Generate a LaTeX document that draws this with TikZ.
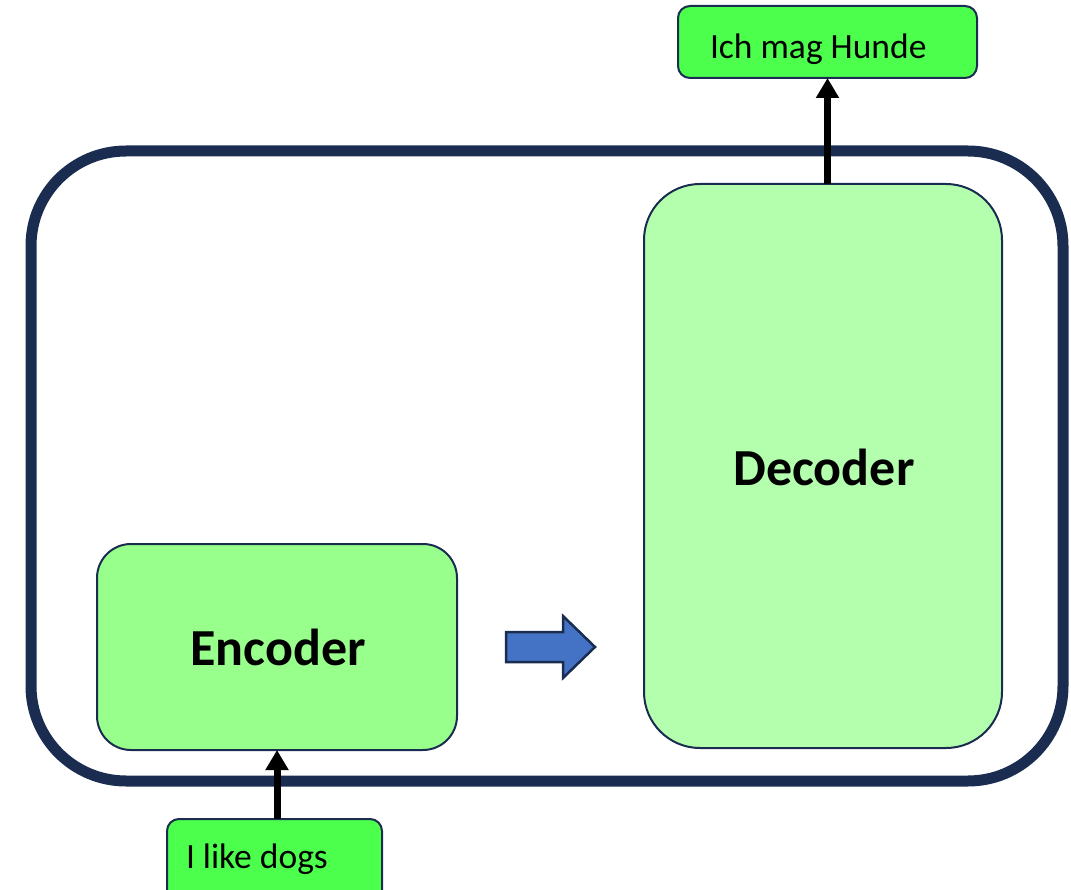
\documentclass[tikz,border=0pt]{standalone}
\usepackage{fontspec}
\setmainfont{Carlito}
\usetikzlibrary{arrows.meta}
\definecolor{navy}{HTML}{1A2D50}
\definecolor{decfill}{HTML}{B4FFAD}
\definecolor{encfill}{HTML}{99FF8C}
\definecolor{iofill}{HTML}{4DFF4D}
\definecolor{blockblue}{HTML}{4472C4}
\begin{document}
\begin{tikzpicture}[x=1pt,y=-1pt,
  every node/.style={outer sep=0pt, inner sep=0pt},
  box/.style={draw=navy, line width=2pt, rounded corners=#1},
  iotext/.style={anchor=base west, font=\fontsize{35.5}{42}\selectfont},
  bigtext/.style={font=\bfseries\fontsize{52}{60}\selectfont},
  conn/.style={line width=7pt, -{Triangle[width=22pt,length=20pt]}}]
\clip (0,0) rectangle (1071,890);
\node[draw=navy, line width=11pt, rounded corners=95pt, minimum width=1032pt, minimum height=630pt] (model) at (547,466) {};
\node[box=56pt, fill=decfill, minimum width=358pt, minimum height=564pt] (dec) at (823,466) {};
\node[bigtext] (dectxt) at (824,467) {Decoder};
\node[box=34pt, fill=encfill, minimum width=360pt, minimum height=206pt] (enc) at (277,647) {};
\node[bigtext] (enctxt) at (278,647) {Encoder};
\node[box=12pt, fill=iofill, minimum width=299pt, minimum height=72pt] (out) at (827.5,42) {};
\node[iotext] (outtxt) at (710,59) {Ich mag Hunde};
\node[box=12pt, fill=iofill, minimum width=215pt, minimum height=142pt] (in) at (274.5,890) {};
\node[iotext] (intxt) at (186,868) {I like dogs};
\draw[fill=blockblue, draw=navy, line width=2.5pt, line join=miter]
  (506,632) -- (563,632) -- (563,616) -- (595,647) -- (563,678) -- (563,662) -- (506,662) -- cycle;
\draw[conn] (out.south |- dec.north) -- (out.south);
\draw[conn] (in.north -| enc.south) -- (enc.south);
\end{tikzpicture}
\end{document}
